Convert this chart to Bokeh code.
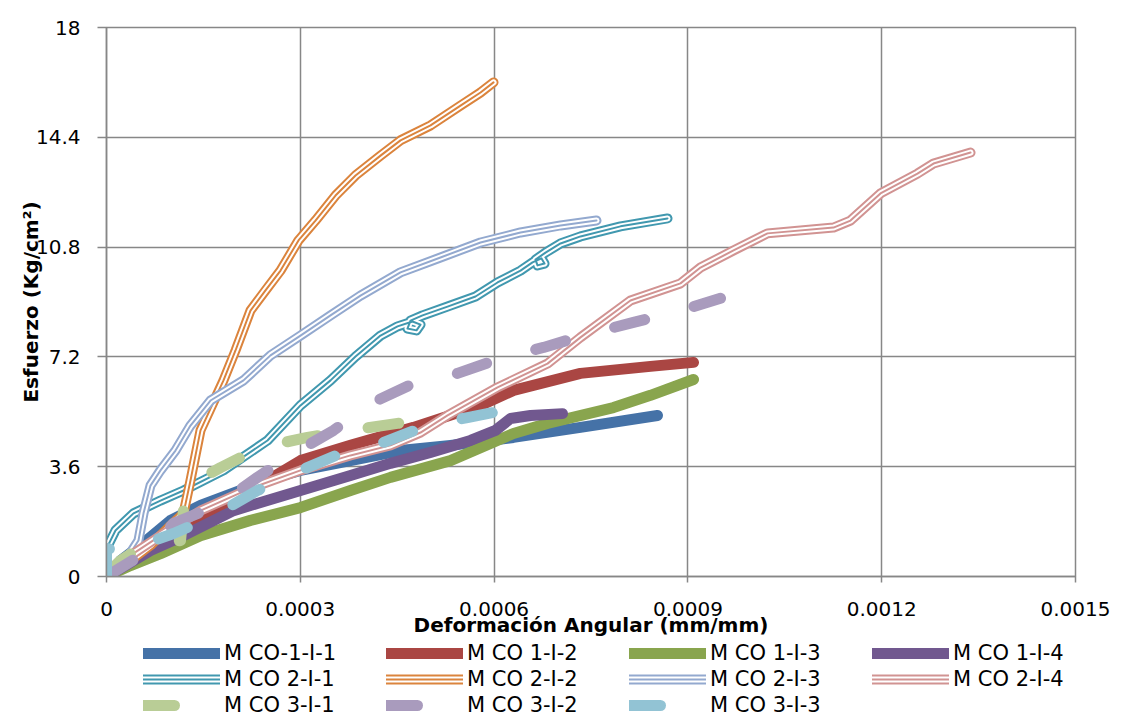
from bokeh.plotting import figure
from bokeh.models import Range1d, FixedTicker, NumeralTickFormatter, Legend, LegendItem
from bokeh.layouts import column
from bokeh.embed import file_html
from bokeh.resources import INLINE
import numpy as np

# strain values are listed in units of 1e-4 mm/mm
SCALE = 1e-4

x_ticks = [0, 0.0003, 0.0006, 0.0009, 0.0012, 0.0015]
y_ticks = [0, 3.6, 7.2, 10.8, 14.4, 18]

names = ["M CO-1-I-1", "M CO 1-I-2", "M CO 1-I-3", "M CO 1-I-4",
         "M CO 2-I-1", "M CO 2-I-2", "M CO 2-I-3", "M CO 2-I-4",
         "M CO 3-I-1", "M CO 3-I-2", "M CO 3-I-3"]
colors = ["#4572A7", "#AA4643", "#89A54E", "#71588F",
          "#4198AF", "#DB843D", "#93A9CF", "#D19392",
          "#B9CD96", "#A99BBD", "#92C3D4"]
styles = ["solid"] * 4 + ["double"] * 4 + ["dash"] * 3

s1_x = [0, 0.217, 0.526, 0.991, 1.455, 2.074, 2.539, 3.003, 3.777, 4.551, 5.325, 6.300, 7.337, 8.529]
s1_y = [0, 0.52, 1.02, 1.84, 2.33, 2.82, 3.21, 3.48, 3.80, 4.13, 4.30, 4.56, 4.89, 5.28]

s2_x = [0, 0.372, 0.836, 1.455, 2.229, 3.003, 3.777, 4.752, 5.789, 6.300, 7.337, 8.421, 9.087]
s2_y = [0, 0.46, 1.02, 1.84, 2.82, 3.80, 4.30, 4.89, 5.61, 6.10, 6.66, 6.89, 7.02]

s3_x = [0, 0.372, 0.836, 1.455, 2.229, 3.003, 3.777, 4.396, 5.325, 6.300, 6.827, 7.848, 8.421, 9.087]
s3_y = [0, 0.36, 0.75, 1.34, 1.84, 2.26, 2.82, 3.25, 3.80, 4.69, 5.02, 5.54, 5.94, 6.46]

s4_x = [0, 0.294, 0.681, 1.192, 1.966, 3.003, 3.777, 4.396, 5.016, 5.635, 6.022, 6.254, 6.564, 7.059]
s4_y = [0, 0.36, 0.85, 1.34, 2.16, 2.82, 3.31, 3.71, 4.07, 4.46, 4.79, 5.18, 5.28, 5.34]

s5_x = [0, 0.139, 0.418, 0.836, 1.192, 1.811, 2.492, 3.003, 3.468, 3.855, 4.242, 4.505, 4.737, 4.861,
        4.799, 4.659, 4.706, 4.892, 5.279, 5.712, 6.053, 6.409, 6.594, 6.734, 6.780, 6.672, 6.641,
        6.796, 7.028, 7.338, 7.957, 8.684]
s5_y = [0.92, 1.51, 2.07, 2.49, 2.82, 3.48, 4.46, 5.61, 6.43, 7.21, 7.90, 8.20, 8.36, 8.26,
        8.07, 8.13, 8.39, 8.56, 8.85, 9.18, 9.64, 10.03, 10.30, 10.43, 10.26, 10.20, 10.39,
        10.62, 10.92, 11.15, 11.48, 11.74]

s6_x = [0, 0.372, 0.681, 0.991, 1.192, 1.300, 1.455, 1.811, 1.997, 2.229, 2.461, 2.694, 2.972,
        3.235, 3.545, 3.855, 4.242, 4.551, 5.016, 5.480, 5.790, 5.991]
s6_y = [0, 0.52, 1.02, 1.67, 2.07, 3.15, 4.79, 6.43, 7.41, 8.72, 9.38, 10.03, 11.02,
        11.67, 12.49, 13.15, 13.80, 14.30, 14.79, 15.44, 15.87, 16.20]

s7_x = [0, 0.294, 0.495, 0.573, 0.681, 0.836, 1.068, 1.300, 1.610, 2.121, 2.539, 3.003, 3.468,
        3.932, 4.551, 5.170, 5.790, 6.409, 7.028, 7.585]
s7_y = [0, 0.52, 1.18, 2.07, 2.98, 3.48, 4.13, 4.95, 5.77, 6.43, 7.25, 7.90, 8.56,
        9.21, 9.97, 10.46, 10.95, 11.28, 11.51, 11.67]

s8_x = [0, 0.372, 0.836, 1.455, 2.229, 3.003, 3.777, 4.396, 4.861, 5.279, 6.053, 6.827, 7.337,
        8.111, 8.885, 9.195, 9.706, 10.232, 11.254, 11.517, 11.981, 12.554, 12.802, 13.375]
s8_y = [0, 0.69, 1.34, 2.16, 2.89, 3.48, 3.97, 4.30, 4.72, 5.28, 6.20, 6.98, 7.84,
        9.05, 9.61, 10.13, 10.69, 11.25, 11.44, 11.67, 12.56, 13.21, 13.54, 13.90]

s9_x = [0, 0.217, 0.449, 0.836, 1.146, 1.177, 1.207, 1.455, 1.765, 2.384, 3.111, 3.777, 4.505, 5.248]
s9_y = [0.10, 0.52, 0.85, 1.08, 1.18, 1.84, 2.56, 3.21, 3.57, 4.23, 4.56, 4.79, 5.02, 5.21]

s10_x = [0, 0.573, 1.037, 1.718, 2.337, 2.895, 3.514, 4.087, 4.752, 5.433, 6.099, 6.765, 7.492,
         8.158, 8.885, 9.505]
s10_y = [0, 0.75, 1.74, 2.33, 3.25, 4.03, 4.79, 5.67, 6.33, 6.66, 7.15, 7.51, 7.97,
         8.33, 8.72, 9.12]

s11_x = [0, 0, 0.217, 0.526, 1.037, 1.610, 2.337, 2.895, 3.622, 4.242, 4.969, 5.588, 6.378]
s11_y = [0, 0.92, 0.85, 1.02, 1.41, 1.93, 2.82, 3.38, 4.03, 4.36, 4.95, 5.21, 5.54]

series_x = [s1_x, s2_x, s3_x, s4_x, s5_x, s6_x, s7_x, s8_x, s9_x, s10_x, s11_x]
series_y = [s1_y, s2_y, s3_y, s4_y, s5_y, s6_y, s7_y, s8_y, s9_y, s10_y, s11_y]

FONT = "DejaVu Sans"
GRID = "#878787"
W = 1128

p = figure(width=W, height=640, output_backend="svg", toolbar_location=None,
           x_range=Range1d(0, 0.0015), y_range=Range1d(0, 18),
           min_border_left=106, min_border_right=53, min_border_top=27, min_border_bottom=64)
p.background_fill_color = "white"
p.border_fill_color = "white"
p.outline_line_color = GRID
p.outline_line_width = 1.5

p.xaxis.ticker = FixedTicker(ticks=x_ticks)
p.yaxis.ticker = FixedTicker(ticks=y_ticks)
p.xaxis.formatter = NumeralTickFormatter(format="0.[0000]")
p.yaxis.formatter = NumeralTickFormatter(format="0.[0]")
p.xgrid.ticker = FixedTicker(ticks=x_ticks)
p.ygrid.ticker = FixedTicker(ticks=y_ticks)
for g in (p.xgrid, p.ygrid):
    g.grid_line_color = GRID
    g.grid_line_width = 1.5

for ax in (p.xaxis, p.yaxis):
    ax.axis_line_color = GRID
    ax.axis_line_width = 1.5
    ax.major_tick_line_color = GRID
    ax.major_tick_line_width = 1.5
    ax.minor_tick_line_color = None
    ax.major_tick_in = 0
    ax.major_label_text_font = FONT
    ax.major_label_text_font_size = "20px"
    ax.major_label_text_color = "#000000"
    ax.axis_label_text_font = FONT
    ax.axis_label_text_font_size = "20px"
    ax.axis_label_text_font_style = "bold"
    ax.axis_label_text_color = "#000000"

p.xaxis.major_tick_out = 6
p.yaxis.major_tick_out = 9
p.xaxis.major_label_standoff = 19
p.yaxis.major_label_standoff = 17
p.xaxis.axis_label = "Deformación Angular (mm/mm)"
p.yaxis.axis_label = "Esfuerzo (Kg/cm²)"
p.xaxis.axis_label_standoff = -6
p.yaxis.axis_label_standoff = -10

# legend panel below the chart; its ranges lie away from the data so only the legend shows
p2 = figure(width=W, height=80, output_backend="svg", toolbar_location=None,
            x_range=Range1d(100, 101), y_range=Range1d(100, 101),
            min_border_left=0, min_border_right=0, min_border_top=0, min_border_bottom=0)
p2.axis.visible = False
p2.grid.visible = False
p2.outline_line_color = None
p2.background_fill_color = "white"
p2.border_fill_color = "white"

items = []
for name, color, style, xs, ys in zip(names, colors, styles, series_x, series_y):
    x = np.array(xs) * SCALE
    y = np.array(ys)
    if style == "solid":
        specs = [dict(line_color=color, line_width=11)]
    elif style == "double":
        specs = [dict(line_color=color, line_width=10),
                 dict(line_color="white", line_width=6),
                 dict(line_color=color, line_width=2)]
    else:
        specs = [dict(line_color=color, line_width=11, line_dash="31 51")]
    rs = []
    for sp in specs:
        p.line(x, y, line_cap="round", line_join="round", **sp)
        rs.append(p2.line(x, y, line_cap="round", line_join="round", **sp))
    items.append(LegendItem(label=name, renderers=rs))

legend = Legend(items=items, location=(37, 2), orientation="horizontal", ncols=4,
                glyph_width=77, glyph_height=26, label_height=26, label_width=162,
                label_standoff=4, spacing=0, padding=0, margin=0,
                label_text_font=FONT, label_text_font_size="21px", label_text_color="#000000",
                border_line_color=None, background_fill_alpha=0)
p2.add_layout(legend, "center")

open("out.html", "w").write(file_html(column(p, p2, spacing=0), INLINE))
